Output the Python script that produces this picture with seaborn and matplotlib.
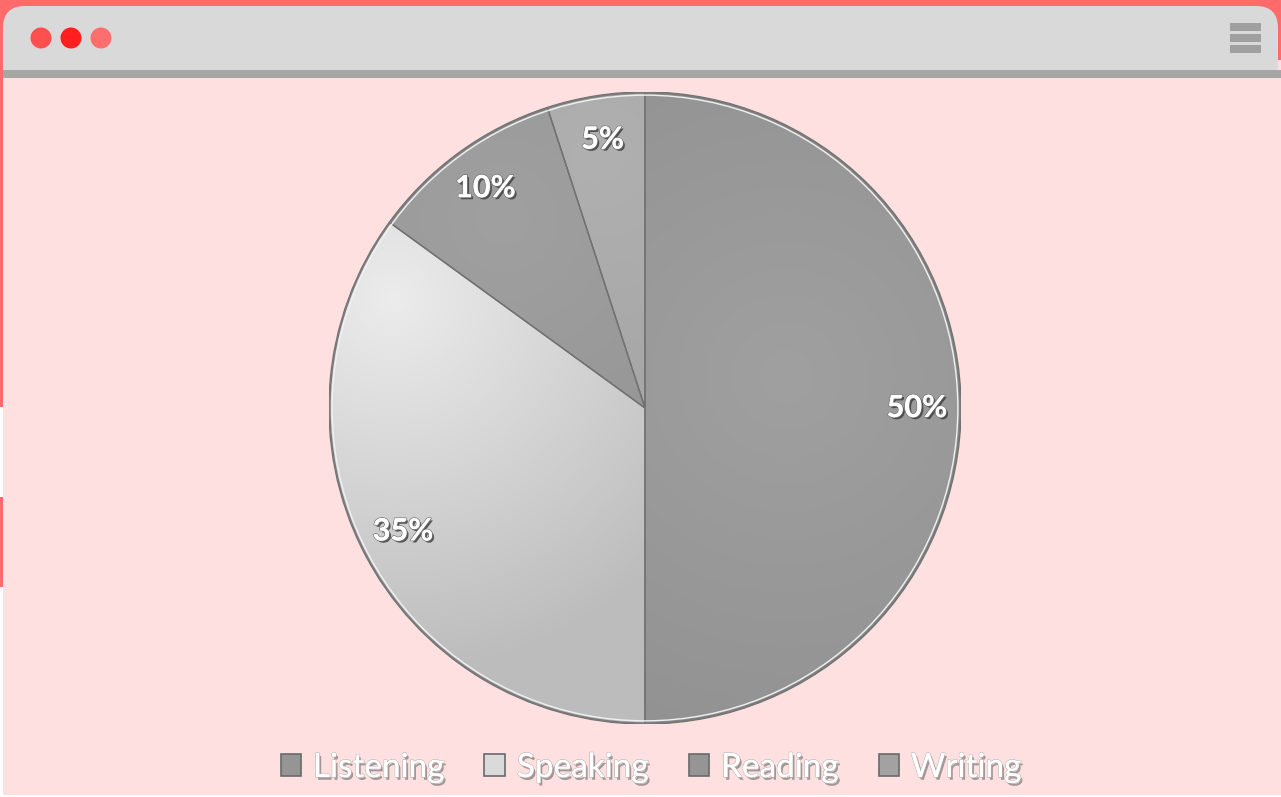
import numpy as np
import seaborn as sns
import matplotlib.pyplot as plt
import matplotlib.patheffects as pe
from matplotlib.colors import to_rgb
from matplotlib.patches import Rectangle, FancyBboxPatch, Circle, Wedge, Patch

# data
skills = ["Listening", "Speaking", "Reading", "Writing"]
shares = [50, 35, 10, 5]
base_colors = ["#999999", "#d2d2d2", "#989898", "#a9a9a9"]
light_colors = ["#a0a0a0", "#ececec", "#a0a0a0", "#b0b0b0"]
dark_colors = ["#929292", "#bcbcbc", "#929292", "#a2a2a2"]
legend_colors = ["#959595", "#dadada", "#959595", "#a2a2a2"]
highlights = [(0.45, 0.1), (-0.8, 0.35), (-0.45, 0.6), (-0.15, 0.8)]

sns.set_theme(style="white")
plt.rcParams['font.family'] = ['Lato', 'DejaVu Sans']

W, H = 1281, 797
fig = plt.figure(figsize=(W / 100, H / 100), dpi=100)
fig.patch.set_facecolor("#ffe0e0")

# browser window chrome, drawn in pixel coordinates
bg = fig.add_axes([0, 0, 1, 1])
bg.set_xlim(0, W)
bg.set_ylim(H, 0)
bg.axis("off")
bg.add_patch(Rectangle((0, 0), W, 60, color="#ff6b6b", lw=0))
bg.add_patch(Rectangle((0, 0), 3, 407, color="#ff6b6b", lw=0))
bg.add_patch(Rectangle((0, 407), 3, 90, color="#ffffff", lw=0))
bg.add_patch(Rectangle((0, 497), 3, 90, color="#ff6b6b", lw=0))
bg.add_patch(Rectangle((0, 587), 3, 210, color="#ffffff", lw=0))
bg.add_patch(FancyBboxPatch((3, 6), 1275, 80, boxstyle="round,pad=0,rounding_size=22",
                            fc="#d9d9d9", ec="none"))
bg.add_patch(Rectangle((3, 70), W - 3, 8, color="#a6a6a6", lw=0))
bg.add_patch(Rectangle((3, 78), W - 3, 717, color="#ffe0e0", lw=0))
bg.add_patch(Rectangle((0, 795), W, 2, color="#ffffff", lw=0))
for x0, c in zip([41, 71, 101], ["#ff4f4f", "#ff1f1f", "#ff6e6e"]):
    bg.add_patch(Circle((x0, 38), 10.5, color=c, lw=0))
for y in [23, 34, 45]:
    bg.add_patch(Rectangle((1230, y), 31, 8, color="#a0a0a0", lw=0))

# pie
cx, cy, r = 645, 408, 316
ax = fig.add_axes([(cx - r) / W, (H - cy - r) / H, 2 * r / W, 2 * r / H])

wedges, texts, autotexts = ax.pie(
    shares, colors=base_colors, startangle=90, counterclock=False,
    autopct="%d%%", pctdistance=0.86, radius=1,
    wedgeprops=dict(linewidth=0),
    textprops=dict(color="white", fontsize=22, fontweight="bold"))
ax.set_xlim(-1, 1)
ax.set_ylim(-1, 1)
ax.set_aspect("auto")

# soft radial shading inside each slice
yy, xx = np.mgrid[1:-1:400j, -1:1:400j]
for i, w in enumerate(wedges):
    hx, hy = highlights[i]
    d = np.clip(np.hypot(xx - hx, yy - hy) / 1.2, 0, 1)
    c1 = np.array(to_rgb(light_colors[i]))
    c2 = np.array(to_rgb(dark_colors[i]))
    img = c1 * (1 - d[..., None]) + c2 * d[..., None]
    im = ax.imshow(img, extent=[-1, 1, -1, 1], zorder=1.5, aspect="auto")
    im.set_clip_path(w)
    ax.add_patch(Wedge((0, 0), 1, w.theta1, w.theta2, fill=False,
                       ec="#727272", lw=1.0, zorder=3))

ax.add_patch(Circle((0, 0), 0.997, fill=False, ec="#7a7a7a", lw=1.1, zorder=3.1))
ax.add_patch(Circle((0, 0), 0.99, fill=False, ec="#f0f0f0", lw=1.0, zorder=3.1))
ax.set_xlim(-1, 1)
ax.set_ylim(-1, 1)
ax.axis("off")

shadow = [pe.withSimplePatchShadow(offset=(1.5, -1.5), shadow_rgbFace="#3a3a3a", alpha=0.8),
          pe.withStroke(linewidth=1.2, foreground="#7a7a7a"), pe.Normal()]
for t in autotexts:
    t.set_zorder(5)
    t.set_path_effects(shadow)

handles = [Patch(fc=c, ec="#6a6a6a", lw=1.2) for c in legend_colors]
leg = fig.legend(handles, skills, loc="center", bbox_to_anchor=(651 / W, 1 - 768 / H),
                 ncol=4, frameon=False, fontsize=24, handlelength=0.62, handleheight=0.62,
                 handletextpad=0.35, columnspacing=1.2)
for t in leg.get_texts():
    t.set_color("white")
    t.set_path_effects([pe.withSimplePatchShadow(offset=(1.5, -2), shadow_rgbFace="#666666", alpha=0.6),
                        pe.withStroke(linewidth=1.0, foreground="#b8b8b8"), pe.Normal()])

fig.savefig("out.png", dpi=100)
